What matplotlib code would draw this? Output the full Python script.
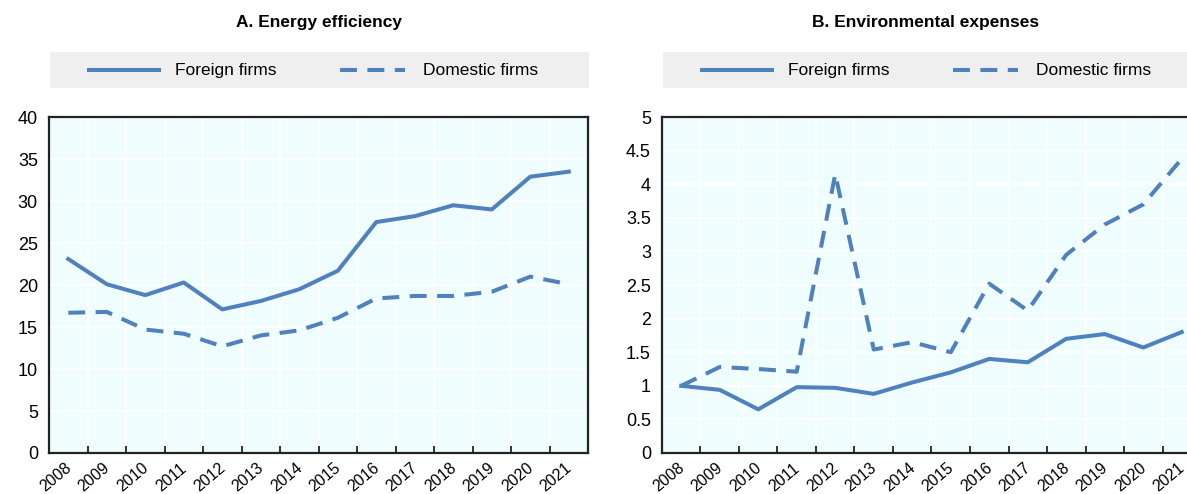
import matplotlib.pyplot as plt
import matplotlib as mpl
import numpy as np
from matplotlib.lines import Line2D
from matplotlib.patches import Rectangle

years = [str(y) for y in range(2008, 2022)]

# Panel A: energy efficiency
energy_foreign = [23.1, 20.1, 18.8, 20.3, 17.1, 18.1, 19.5, 21.7, 27.5, 28.2, 29.5, 29.0, 32.9, 33.5]
energy_domestic = [16.7, 16.8, 14.7, 14.2, 12.7, 14.0, 14.6, 16.1, 18.4, 18.7, 18.7, 19.2, 21.0, 20.1]

# Panel B: environmental expenses
env_foreign = [1.0, 0.94, 0.65, 0.98, 0.97, 0.88, 1.05, 1.2, 1.4, 1.35, 1.7, 1.77, 1.57, 1.8]
env_domestic = [1.0, 1.28, 1.25, 1.21, 4.15, 1.54, 1.65, 1.50, 2.52, 2.12, 2.95, 3.4, 3.7, 4.38]

energy_ticks = [0, 5, 10, 15, 20, 25, 30, 35, 40]
env_ticks = [0, 0.5, 1, 1.5, 2, 2.5, 3, 3.5, 4, 4.5, 5]
env_labels = ['0', '0.5', '1', '1.5', '2', '2.5', '3', '3.5', '4', '4.5', '5']

# set style stuff
mpl.rcParams['font.family'] = ['Liberation Sans Narrow', 'Liberation Sans', 'DejaVu Sans']
plt.rcParams['font.size'] = 12

BLUE = '#4F81BD'
BG = '#F0FDFF'
LEG_BG = '#EFEFEF'
LW = 2.9
DASH = (4.2, 2.6)

fig = plt.figure(figsize=(11.87, 4.94), dpi=100)


def panel(x0, title, foreign, domestic, yticks, ylabels):
    ax = fig.add_axes([x0, 0.083, 0.4541, 0.680])
    ax.set_facecolor(BG)
    x = np.arange(len(years)) + 0.5
    ax.plot(x, foreign, color=BLUE, lw=LW)
    ax.plot(x, domestic, color=BLUE, lw=LW, dashes=DASH)
    ax.set_xlim(0, len(years))
    ax.set_ylim(yticks[0], yticks[-1])
    ax.set_yticks(yticks)
    ax.set_yticklabels(ylabels, fontsize=13)
    ax.set_xticks(np.arange(1, len(years)))
    ax.set_xticklabels([])
    for i, yr in enumerate(years):
        ax.text(x[i] - 0.1, -0.022, yr, transform=ax.get_xaxis_transform(),
                rotation=40, ha='right', va='top', rotation_mode='anchor', fontsize=11.5)
    ax.grid(True, color='white', lw=1.2)
    ax.set_axisbelow(True)
    ax.tick_params(axis='y', length=0, pad=8)
    ax.tick_params(axis='x', direction='in', length=5, width=1.3, color='#222222')
    for s in ax.spines.values():
        s.set_linewidth(1.6)
        s.set_color('#222222')

    # title and legend band above the axes
    cx = x0 + 0.4541 / 2
    fig.text(min(cx, 0.78), 0.955, title, ha='center', va='center',
             fontsize=12.5, fontweight='bold')
    fig.patches.append(Rectangle((x0 + 0.001, 0.822), 0.4541, 0.073,
                                 transform=fig.transFigure, facecolor=LEG_BG,
                                 edgecolor='none', zorder=0))
    lx = x0 + 0.034
    fig.lines.append(Line2D([lx, lx + 0.059], [0.858, 0.858], transform=fig.transFigure,
                            color=BLUE, lw=LW))
    fig.text(lx + 0.072, 0.858, 'Foreign firms', va='center', fontsize=12.5)
    lx2 = x0 + 0.245
    fig.lines.append(Line2D([lx2, lx2 + 0.055], [0.858, 0.858], transform=fig.transFigure,
                            color=BLUE, lw=LW, dashes=DASH))
    fig.text(lx2 + 0.070, 0.858, 'Domestic firms', va='center', fontsize=12.5)
    return ax


panel(0.0413, 'A. Energy efficiency', energy_foreign, energy_domestic,
      energy_ticks, [str(t) for t in energy_ticks])
panel(0.5577, 'B. Environmental expenses', env_foreign, env_domestic,
      env_ticks, env_labels)

plt.savefig('out.png', dpi=100)
